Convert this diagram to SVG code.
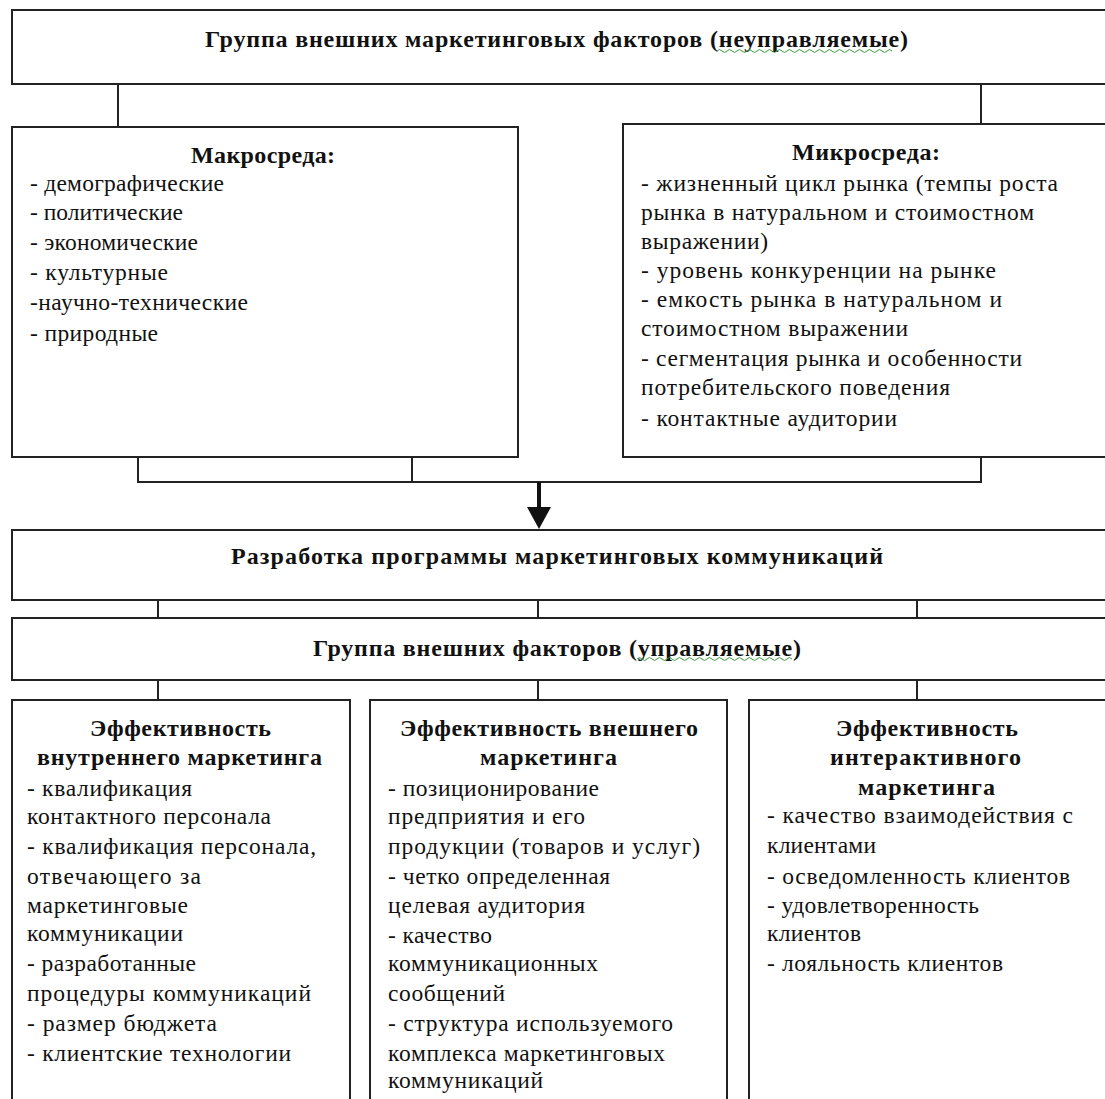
<svg xmlns="http://www.w3.org/2000/svg" width="1105" height="1099" viewBox="0 0 1105 1099">
<style>
.box{fill:#fff;stroke:#222;stroke-width:2}
.ln{fill:none;stroke:#222;stroke-width:2}
text{font-family:"Liberation Serif","Times New Roman",serif;font-size:23.5px;fill:#111}
.b{font-weight:bold;font-size:24px}
.sq{fill:none;stroke:#3a9a3a;stroke-width:1}
</style>
<rect width="1105" height="1099" fill="#fff"/>
<g id="connectors">
<path class="ln" d="M118 84V127M981 84V124"/>
<path class="ln" d="M138 457V482H981V457M412 457V482"/>
<line x1="539" y1="482" x2="539" y2="509" stroke="#111" stroke-width="4"/>
<polygon points="527,507 551,507 539,529" fill="#111"/>
<path class="ln" d="M158 600V618M538 600V618M917 600V618"/>
<path class="ln" d="M158 680V700M538 680V700M917 680V700"/>
</g>
<g id="external-uncontrolled">
<rect class="box" x="12" y="10" width="1100" height="74"/>
<text class="b" x="205" y="47" textLength="703" lengthAdjust="spacing">Группа внешних маркетинговых факторов (неуправляемые)</text>
<path class="sq" d="M717 51q2.5-3 5 0t5 0t5 0t5 0t5 0t5 0t5 0t5 0t5 0t5 0t5 0t5 0t5 0t5 0t5 0t5 0t5 0t5 0t5 0t5 0t5 0t5 0t5 0t5 0t5 0t5 0t5 0t5 0t5 0t5 0t5 0t5 0t5 0t5 0t5 0"/>
</g>
<g id="macro">
<rect class="box" x="12" y="127" width="506" height="330"/>
<text class="b" x="191" y="163" textLength="144" lengthAdjust="spacing">Макросреда:</text>
<text x="30" y="191" textLength="194" lengthAdjust="spacing">- демографические</text>
<text x="30" y="220" textLength="153" lengthAdjust="spacing">- политические</text>
<text x="30" y="250" textLength="168" lengthAdjust="spacing">- экономические</text>
<text x="30" y="280" textLength="138" lengthAdjust="spacing">- культурные</text>
<text x="30" y="310" textLength="218" lengthAdjust="spacing">-научно-технические</text>
<text x="30" y="341" textLength="128" lengthAdjust="spacing">- природные</text>
</g>
<g id="micro">
<rect class="box" x="623" y="124" width="490" height="333"/>
<text class="b" x="792" y="160" textLength="148" lengthAdjust="spacing">Микросреда:</text>
<text x="641" y="191" textLength="417" lengthAdjust="spacing">- жизненный цикл рынка (темпы роста</text>
<text x="641" y="220" textLength="393" lengthAdjust="spacing">рынка в натуральном и стоимостном</text>
<text x="641" y="249" textLength="127" lengthAdjust="spacing">выражении)</text>
<text x="641" y="278" textLength="355" lengthAdjust="spacing">- уровень конкуренции на рынке</text>
<text x="641" y="307" textLength="361" lengthAdjust="spacing">- емкость рынка в натуральном и</text>
<text x="641" y="336" textLength="267" lengthAdjust="spacing">стоимостном выражении</text>
<text x="641" y="366" textLength="381" lengthAdjust="spacing">- сегментация рынка и особенности</text>
<text x="641" y="395" textLength="309" lengthAdjust="spacing">потребительского поведения</text>
<text x="641" y="426" textLength="256" lengthAdjust="spacing">- контактные аудитории</text>
</g>
<g id="program">
<rect class="box" x="12" y="530" width="1100" height="70"/>
<text class="b" x="231" y="564" textLength="652" lengthAdjust="spacing">Разработка программы маркетинговых коммуникаций</text>
</g>
<g id="external-controlled">
<rect class="box" x="12" y="618" width="1100" height="62"/>
<text class="b" x="313" y="656" textLength="488" lengthAdjust="spacing">Группа внешних факторов (управляемые)</text>
<path class="sq" d="M637 659q2.5-3 5 0t5 0t5 0t5 0t5 0t5 0t5 0t5 0t5 0t5 0t5 0t5 0t5 0t5 0t5 0t5 0t5 0t5 0t5 0t5 0t5 0t5 0t5 0t5 0t5 0t5 0t5 0t5 0t5 0t5 0t5 0"/>
</g>
<g id="internal-marketing">
<rect class="box" x="12" y="700" width="338" height="420"/>
<text class="b" x="90" y="736" textLength="181" lengthAdjust="spacing">Эффективность</text>
<text class="b" x="37" y="765" textLength="285" lengthAdjust="spacing">внутреннего маркетинга</text>
<text x="27" y="796" textLength="165" lengthAdjust="spacing">- квалификация</text>
<text x="27" y="824" textLength="244" lengthAdjust="spacing">контактного персонала</text>
<text x="27" y="854" textLength="289" lengthAdjust="spacing">- квалификация персонала,</text>
<text x="27" y="884" textLength="174" lengthAdjust="spacing">отвечающего за</text>
<text x="27" y="913" textLength="161" lengthAdjust="spacing">маркетинговые</text>
<text x="27" y="941" textLength="156" lengthAdjust="spacing">коммуникации</text>
<text x="27" y="971" textLength="169" lengthAdjust="spacing">- разработанные</text>
<text x="27" y="1001" textLength="284" lengthAdjust="spacing">процедуры коммуникаций</text>
<text x="27" y="1031" textLength="190" lengthAdjust="spacing">- размер бюджета</text>
<text x="27" y="1061" textLength="264" lengthAdjust="spacing">- клиентские технологии</text>
</g>
<g id="external-marketing">
<rect class="box" x="370" y="700" width="357" height="420"/>
<text class="b" x="400" y="736" textLength="298" lengthAdjust="spacing">Эффективность внешнего</text>
<text class="b" x="480" y="765" textLength="137" lengthAdjust="spacing">маркетинга</text>
<text x="388" y="796" textLength="211" lengthAdjust="spacing">- позиционирование</text>
<text x="388" y="824" textLength="197" lengthAdjust="spacing">предприятия и его</text>
<text x="388" y="854" textLength="312" lengthAdjust="spacing">продукции (товаров и услуг)</text>
<text x="388" y="884" textLength="222" lengthAdjust="spacing">- четко определенная</text>
<text x="388" y="913" textLength="197" lengthAdjust="spacing">целевая аудитория</text>
<text x="388" y="943" textLength="104" lengthAdjust="spacing">- качество</text>
<text x="388" y="971" textLength="210" lengthAdjust="spacing">коммуникационных</text>
<text x="388" y="1001" textLength="117" lengthAdjust="spacing">сообщений</text>
<text x="388" y="1031" textLength="285" lengthAdjust="spacing">- структура используемого</text>
<text x="388" y="1061" textLength="277" lengthAdjust="spacing">комплекса маркетинговых</text>
<text x="388" y="1088" textLength="155" lengthAdjust="spacing">коммуникаций</text>
</g>
<g id="interactive-marketing">
<rect class="box" x="749" y="700" width="370" height="420"/>
<text class="b" x="836" y="736" textLength="182" lengthAdjust="spacing">Эффективность</text>
<text class="b" x="830" y="765" textLength="191" lengthAdjust="spacing">интерактивного</text>
<text class="b" x="858" y="795" textLength="137" lengthAdjust="spacing">маркетинга</text>
<text x="767" y="823" textLength="306" lengthAdjust="spacing">- качество взаимодействия с</text>
<text x="767" y="853" textLength="109" lengthAdjust="spacing">клиентами</text>
<text x="767" y="884" textLength="303" lengthAdjust="spacing">- осведомленность клиентов</text>
<text x="767" y="913" textLength="212" lengthAdjust="spacing">- удовлетворенность</text>
<text x="767" y="941" textLength="94" lengthAdjust="spacing">клиентов</text>
<text x="767" y="971" textLength="236" lengthAdjust="spacing">- лояльность клиентов</text>
</g>
</svg>
